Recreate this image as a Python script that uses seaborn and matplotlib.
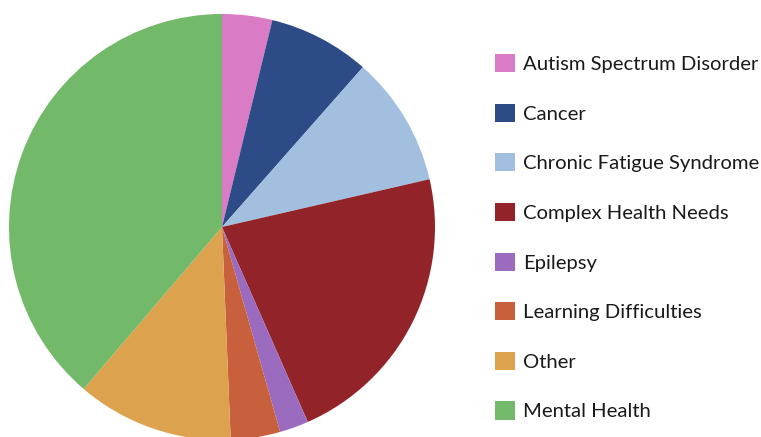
import matplotlib
matplotlib.use("Agg")
import matplotlib.pyplot as plt
import seaborn as sns
from matplotlib.patches import Patch

categories = ["Autism Spectrum Disorder", "Cancer", "Chronic Fatigue Syndrome",
              "Complex Health Needs", "Epilepsy", "Learning Difficulties",
              "Other", "Mental Health"]
values = [3.8, 7.7, 9.9, 22.0, 2.2, 3.75, 11.9, 38.75]
colors = ["#D97BC5", "#2D4C87", "#A2BFE0", "#922328", "#9B6BC0",
          "#C8603D", "#DDA24E", "#72B96A"]

sns.set_theme(style="white")
plt.rcParams['font.family'] = ['Lato', 'DejaVu Sans']

W, H = 761, 437
fig = plt.figure(figsize=(W / 100, H / 100), dpi=100)
cx, cy, r = 222, 227, 213
ax = fig.add_axes([(cx - r) / W, (H - cy - r) / H, 2 * r / W, 2 * r / H])
palette = sns.color_palette(colors)
ax.pie(values, colors=palette, startangle=90, counterclock=False,
       wedgeprops=dict(linewidth=0))
ax.set_xlim(-1, 1)
ax.set_ylim(-1, 1)
ax.set_aspect('auto')
ax.axis('off')

handles = [Patch(facecolor=c, edgecolor='none') for c in palette]
fig.legend(handles, categories, loc='upper left',
           bbox_to_anchor=(495 / W, 1 - 54 / H), frameon=False,
           fontsize=14.6, handlelength=1.0, handleheight=1.0,
           handletextpad=0.4, labelspacing=1.51, borderpad=0,
           borderaxespad=0, labelcolor='#1a1a1a')

fig.savefig("out.png", dpi=100)
